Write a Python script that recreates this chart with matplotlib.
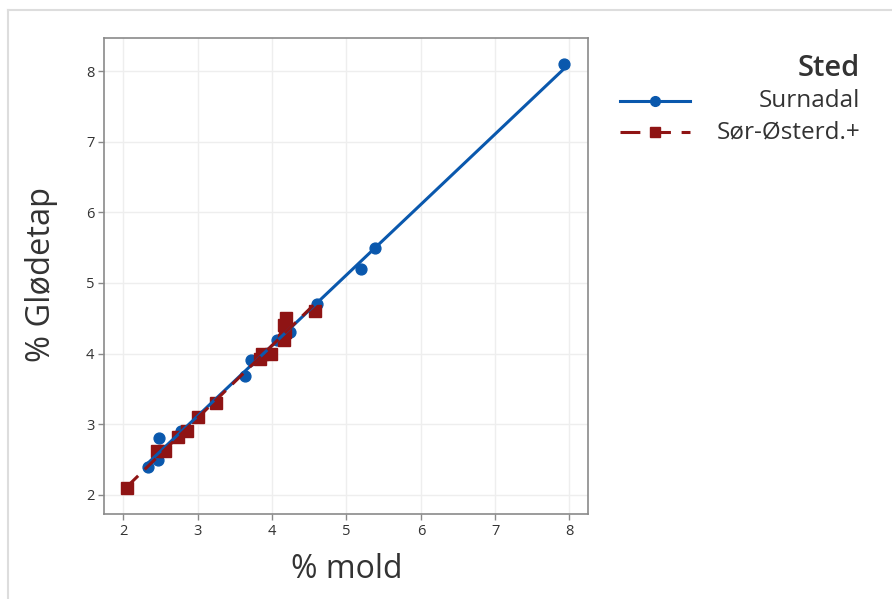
import numpy as np
import matplotlib
matplotlib.use("Agg")
import matplotlib.pyplot as plt
from matplotlib.lines import Line2D

plt.rcParams['font.family'] = ['Open Sans', 'DejaVu Sans']

# Surnadal
surnadal_mold = [2.33, 2.46, 2.48, 2.78, 3.63, 3.72, 4.06, 4.24, 4.61, 5.19, 5.39, 7.93]
surnadal_glod = [2.40, 2.50, 2.81, 2.90, 3.69, 3.91, 4.20, 4.31, 4.70, 5.20, 5.50, 8.10]

# Sør-Østerdal+
sor_mold = [2.05, 2.45, 2.56, 2.74, 2.85, 3.00, 3.25, 3.83, 3.86, 3.98,
            4.16, 4.17, 4.16, 4.18, 4.58]
sor_glod = [2.10, 2.62, 2.62, 2.82, 2.90, 3.10, 3.30, 3.92, 4.00, 4.00,
            4.20, 4.30, 4.40, 4.50, 4.60]

x_ticks = [2, 3, 4, 5, 6, 7, 8]
y_ticks = [2, 3, 4, 5, 6, 7, 8]
group_title = "Sted"
group_names = ["Surnadal", "Sør-Østerd.+"]

BLUE = "#0a58ad"
RED = "#8f1414"
TEXT = "#333333"
DASH = (0, (5, 3))

W, H = 892, 599
fig = plt.figure(figsize=(W / 100, H / 100), dpi=100)

# panel frame
fig.add_artist(Line2D([8 / W, 8 / W], [0, 1 - 10 / H], color="#dddddd", lw=1.5,
                      transform=fig.transFigure))
fig.add_artist(Line2D([8 / W, 1], [1 - 10 / H, 1 - 10 / H], color="#dddddd", lw=1.5,
                      transform=fig.transFigure))

ax = fig.add_axes([104 / W, (H - 514) / H, (588 - 104) / W, (514 - 38) / H])
ax.set_xlim(1.738, 8.249)
ax.set_ylim(1.731, 8.467)
ax.set_xticks(x_ticks)
ax.set_yticks(y_ticks)
ax.grid(True, color="#eeeeee", lw=1)
ax.set_axisbelow(True)
for s in ax.spines.values():
    s.set_color("#8a8a8a")
    s.set_linewidth(1.2)
ax.tick_params(length=4, width=1, color="#8a8a8a", labelsize=10.5, labelcolor=TEXT, pad=3)

# points
ax.plot(surnadal_mold, surnadal_glod, 'o', color=BLUE, ms=7.8, zorder=3)
ax.plot(sor_mold, sor_glod, 's', color=RED, ms=9, zorder=4)

# linear fits per group
for xs, ys, col, ls in [(surnadal_mold, surnadal_glod, BLUE, '-'),
                        (sor_mold, sor_glod, RED, DASH)]:
    xs = np.asarray(xs)
    ys = np.asarray(ys)
    k, m = np.polyfit(xs, ys, 1)
    xf = np.array([xs.min(), xs.max()])
    ax.plot(xf, k * xf + m, color=col, lw=2.2, ls=ls, zorder=5)

fig.text(347 / W, 1 - 570 / H, "% mold", ha="center", va="center", fontsize=23, color=TEXT)
fig.text(42 / W, 1 - 275 / H, "% Glødetap", ha="center", va="center", fontsize=23.5,
         color=TEXT, rotation=90)

# legend
fig.text(860 / W, 1 - 68 / H, group_title, ha="right", va="center", fontsize=21,
         fontweight="semibold", color=TEXT)
rows = [(101, BLUE, '-', 'o', 7, group_names[0]),
        (132, RED, (0, (6.5, 3.5)), 's', 7, group_names[1])]
for yy, col, ls, mk, ms, name in rows:
    yf = 1 - yy / H
    fig.add_artist(Line2D([620 / W, 690 / W], [yf, yf], color=col, lw=2.2, ls=ls,
                          transform=fig.transFigure))
    fig.add_artist(Line2D([655 / W], [yf], color=col, marker=mk, ms=ms, ls='none',
                          transform=fig.transFigure))
    fig.text(860 / W, yf, name, ha="right", va="center", fontsize=17.5, color=TEXT)

fig.savefig("out.png", dpi=100)
